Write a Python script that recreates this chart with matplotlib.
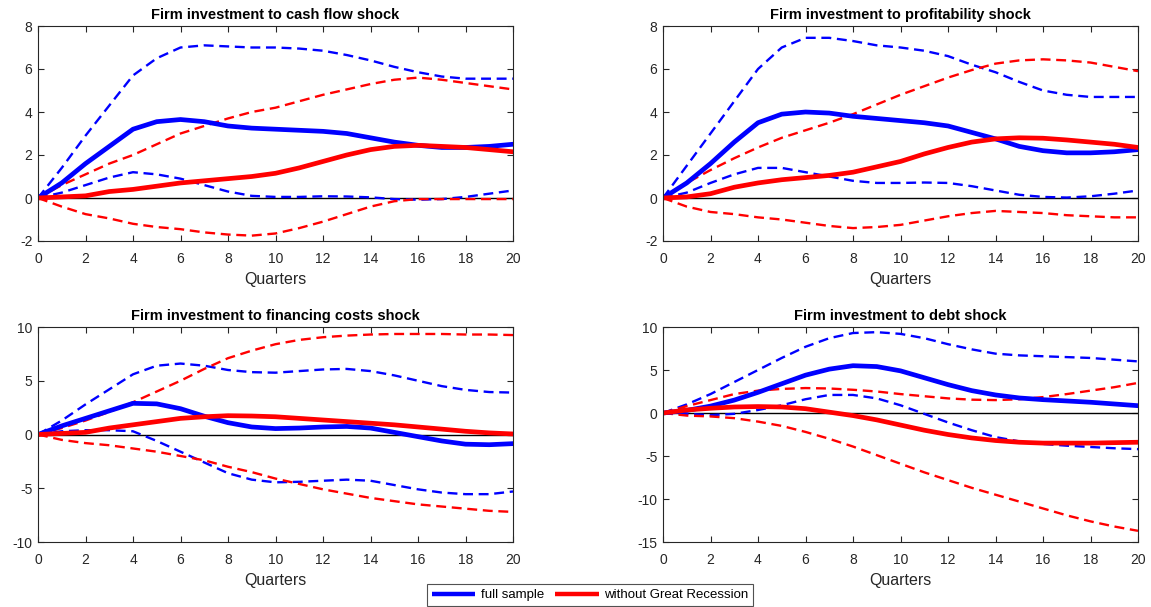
import numpy as np
import matplotlib
matplotlib.use("Agg")
import matplotlib.pyplot as plt
from matplotlib.lines import Line2D

plt.rcParams['font.family'] = ['Liberation Sans', 'DejaVu Sans']
plt.rcParams['axes.unicode_minus'] = False

quarters = np.arange(21)

titles = [
    "Firm investment to cash flow shock",
    "Firm investment to profitability shock",
    "Firm investment to financing costs shock",
    "Firm investment to debt shock",
]

# cash flow shock
cf_full = [0, 0.7, 1.6, 2.4, 3.2, 3.55, 3.65, 3.55, 3.35, 3.25, 3.2, 3.15, 3.1, 3.0, 2.8, 2.6, 2.45, 2.35, 2.35, 2.4, 2.5]
cf_full_hi = [0, 1.4, 2.9, 4.3, 5.7, 6.5, 7.0, 7.1, 7.05, 7.0, 7.0, 6.95, 6.85, 6.65, 6.4, 6.1, 5.85, 5.65, 5.55, 5.55, 5.55]
cf_full_lo = [0, 0.25, 0.6, 0.95, 1.2, 1.1, 0.9, 0.6, 0.3, 0.1, 0.05, 0.05, 0.08, 0.07, 0.03, -0.05, -0.08, -0.05, 0.05, 0.2, 0.35]
cf_nogr = [0, 0.05, 0.1, 0.3, 0.4, 0.55, 0.7, 0.8, 0.9, 1.0, 1.15, 1.4, 1.7, 2.0, 2.25, 2.4, 2.45, 2.4, 2.35, 2.25, 2.15]
cf_nogr_hi = [0, 0.6, 1.1, 1.6, 2.0, 2.5, 3.0, 3.35, 3.7, 4.0, 4.2, 4.5, 4.8, 5.05, 5.3, 5.5, 5.6, 5.5, 5.35, 5.2, 5.05]
cf_nogr_lo = [0, -0.4, -0.75, -0.95, -1.2, -1.35, -1.45, -1.6, -1.7, -1.75, -1.65, -1.4, -1.1, -0.75, -0.4, -0.15, -0.05, -0.05, -0.05, -0.05, -0.05]

# profitability shock
pr_full = [0, 0.7, 1.6, 2.6, 3.5, 3.9, 4.0, 3.95, 3.8, 3.7, 3.6, 3.5, 3.35, 3.05, 2.75, 2.4, 2.2, 2.1, 2.1, 2.15, 2.25]
pr_full_hi = [0, 1.5, 3.0, 4.5, 6.0, 7.0, 7.45, 7.45, 7.3, 7.1, 7.0, 6.85, 6.6, 6.2, 5.85, 5.4, 5.0, 4.8, 4.7, 4.7, 4.7]
pr_full_lo = [0, 0.25, 0.7, 1.1, 1.4, 1.4, 1.2, 1.0, 0.8, 0.7, 0.7, 0.72, 0.7, 0.55, 0.35, 0.15, 0.05, 0.02, 0.08, 0.2, 0.35]
pr_nogr = [0, 0.05, 0.2, 0.5, 0.7, 0.85, 0.95, 1.05, 1.2, 1.45, 1.7, 2.05, 2.35, 2.6, 2.75, 2.8, 2.78, 2.7, 2.6, 2.5, 2.35]
pr_nogr_hi = [0, 0.7, 1.3, 1.85, 2.35, 2.8, 3.15, 3.5, 3.9, 4.35, 4.8, 5.2, 5.6, 5.95, 6.25, 6.4, 6.45, 6.4, 6.3, 6.1, 5.9]
pr_nogr_lo = [0, -0.4, -0.65, -0.75, -0.9, -1.0, -1.15, -1.3, -1.4, -1.35, -1.25, -1.05, -0.85, -0.7, -0.6, -0.65, -0.7, -0.8, -0.85, -0.9, -0.9]

# financing costs shock
fc_full = [0, 0.8, 1.5, 2.2, 2.9, 2.85, 2.4, 1.7, 1.1, 0.7, 0.55, 0.6, 0.7, 0.75, 0.6, 0.2, -0.2, -0.6, -0.9, -0.95, -0.85]
fc_full_hi = [0, 1.3, 2.8, 4.2, 5.6, 6.4, 6.6, 6.4, 6.0, 5.8, 5.75, 5.9, 6.05, 6.1, 5.9, 5.5, 5.0, 4.5, 4.15, 3.95, 3.9]
fc_full_lo = [0, 0.3, 0.4, 0.4, 0.3, -0.6, -1.6, -2.6, -3.6, -4.2, -4.45, -4.4, -4.3, -4.2, -4.3, -4.7, -5.1, -5.4, -5.55, -5.55, -5.3]
fc_nogr = [0, 0.1, 0.2, 0.6, 0.9, 1.2, 1.5, 1.65, 1.75, 1.72, 1.65, 1.5, 1.35, 1.2, 1.05, 0.9, 0.7, 0.5, 0.3, 0.15, 0.05]
fc_nogr_hi = [0, 0.6, 1.3, 2.1, 3.0, 4.0, 5.0, 6.1, 7.1, 7.8, 8.4, 8.8, 9.05, 9.2, 9.3, 9.35, 9.35, 9.35, 9.3, 9.3, 9.25]
fc_nogr_lo = [0, -0.5, -0.8, -1.0, -1.3, -1.6, -2.0, -2.4, -3.0, -3.5, -4.1, -4.6, -5.1, -5.5, -5.9, -6.2, -6.5, -6.7, -6.9, -7.1, -7.2]

# debt shock
db_full = [0, 0.3, 0.8, 1.5, 2.4, 3.4, 4.4, 5.1, 5.5, 5.4, 4.9, 4.1, 3.3, 2.6, 2.1, 1.75, 1.55, 1.4, 1.25, 1.05, 0.85]
db_full_hi = [0, 1.0, 2.2, 3.6, 5.0, 6.4, 7.7, 8.7, 9.3, 9.4, 9.2, 8.7, 8.0, 7.4, 6.9, 6.7, 6.6, 6.5, 6.4, 6.2, 6.0]
db_full_lo = [0, -0.1, -0.25, -0.1, 0.35, 0.9, 1.6, 2.1, 2.1, 1.7, 0.9, -0.1, -1.1, -2.0, -2.8, -3.3, -3.6, -3.8, -3.95, -4.1, -4.2]
db_nogr = [0, 0.35, 0.55, 0.7, 0.75, 0.7, 0.5, 0.1, -0.3, -0.8, -1.4, -2.0, -2.5, -2.9, -3.2, -3.4, -3.5, -3.5, -3.5, -3.45, -3.4]
db_nogr_hi = [0, 0.8, 1.5, 2.2, 2.6, 2.8, 2.9, 2.85, 2.7, 2.5, 2.2, 1.95, 1.7, 1.55, 1.5, 1.6, 1.85, 2.2, 2.6, 3.0, 3.5]
db_nogr_lo = [0, -0.3, -0.4, -0.6, -1.0, -1.5, -2.2, -3.0, -3.9, -4.9, -5.9, -6.9, -7.8, -8.7, -9.5, -10.3, -11.1, -11.9, -12.6, -13.2, -13.7]

panels = [
    (cf_full, cf_full_hi, cf_full_lo, cf_nogr, cf_nogr_hi, cf_nogr_lo),
    (pr_full, pr_full_hi, pr_full_lo, pr_nogr, pr_nogr_hi, pr_nogr_lo),
    (fc_full, fc_full_hi, fc_full_lo, fc_nogr, fc_nogr_hi, fc_nogr_lo),
    (db_full, db_full_hi, db_full_lo, db_nogr, db_nogr_hi, db_nogr_lo),
]
ylims = [(-2, 8), (-2, 8), (-10, 10), (-15, 10)]
yticks = [np.arange(-2, 9, 2), np.arange(-2, 9, 2), np.arange(-10, 11, 5), np.arange(-15, 11, 5)]

blue = '#0000ff'
red = '#ff0000'
dark = '#262626'

fig = plt.figure(figsize=(11.51, 6.07), dpi=100)

W, H = 1151, 607
boxes = [(38, 26), (663, 26), (38, 327), (663, 327)]
aw, ah = 475, 215

for i, (px, py) in enumerate(boxes):
    ax = fig.add_axes([px / W, 1 - (py + ah) / H, aw / W, ah / H])
    full, full_hi, full_lo, nogr, nogr_hi, nogr_lo = panels[i]
    ax.axhline(0, color='black', lw=1.0)
    dash = dict(ls='--', lw=1.7, dashes=(4.2, 2.4))
    ax.plot(quarters, full_hi, color=blue, **dash)
    ax.plot(quarters, full_lo, color=blue, **dash)
    ax.plot(quarters, nogr_hi, color=red, **dash)
    ax.plot(quarters, nogr_lo, color=red, **dash)
    ax.plot(quarters, full, '-', color=blue, lw=3.4)
    ax.plot(quarters, nogr, '-', color=red, lw=3.4)
    ax.set_xlim(0, 20)
    ax.set_ylim(*ylims[i])
    ax.set_xticks(np.arange(0, 21, 2))
    ax.set_yticks(yticks[i])
    ax.tick_params(direction='in', top=True, right=True, length=4, width=0.8,
                   labelsize=10, colors=dark)
    ax.tick_params(axis='x', pad=8)
    ax.tick_params(axis='y', pad=4)
    for s in ax.spines.values():
        s.set_color(dark)
        s.set_linewidth(0.8)
    ax.set_title(titles[i], fontsize=10.5, fontweight='bold', pad=5)
    ax.set_xlabel("Quarters", fontsize=11.5, color=dark, labelpad=4)

handles = [Line2D([], [], color=blue, lw=3.2, solid_capstyle='butt'),
           Line2D([], [], color=red, lw=3.2, solid_capstyle='butt')]
leg = fig.legend(handles, ["full sample", "without Great Recession"], loc='center',
                 bbox_to_anchor=(590 / W, 1 - 595 / H), ncol=2, fontsize=9.5,
                 frameon=True, fancybox=False, handlelength=3.3, handletextpad=0.4,
                 columnspacing=0.85, borderpad=0.4)
leg.get_frame().set_edgecolor(dark)
leg.get_frame().set_linewidth(0.8)

fig.savefig("out.png", dpi=100)
